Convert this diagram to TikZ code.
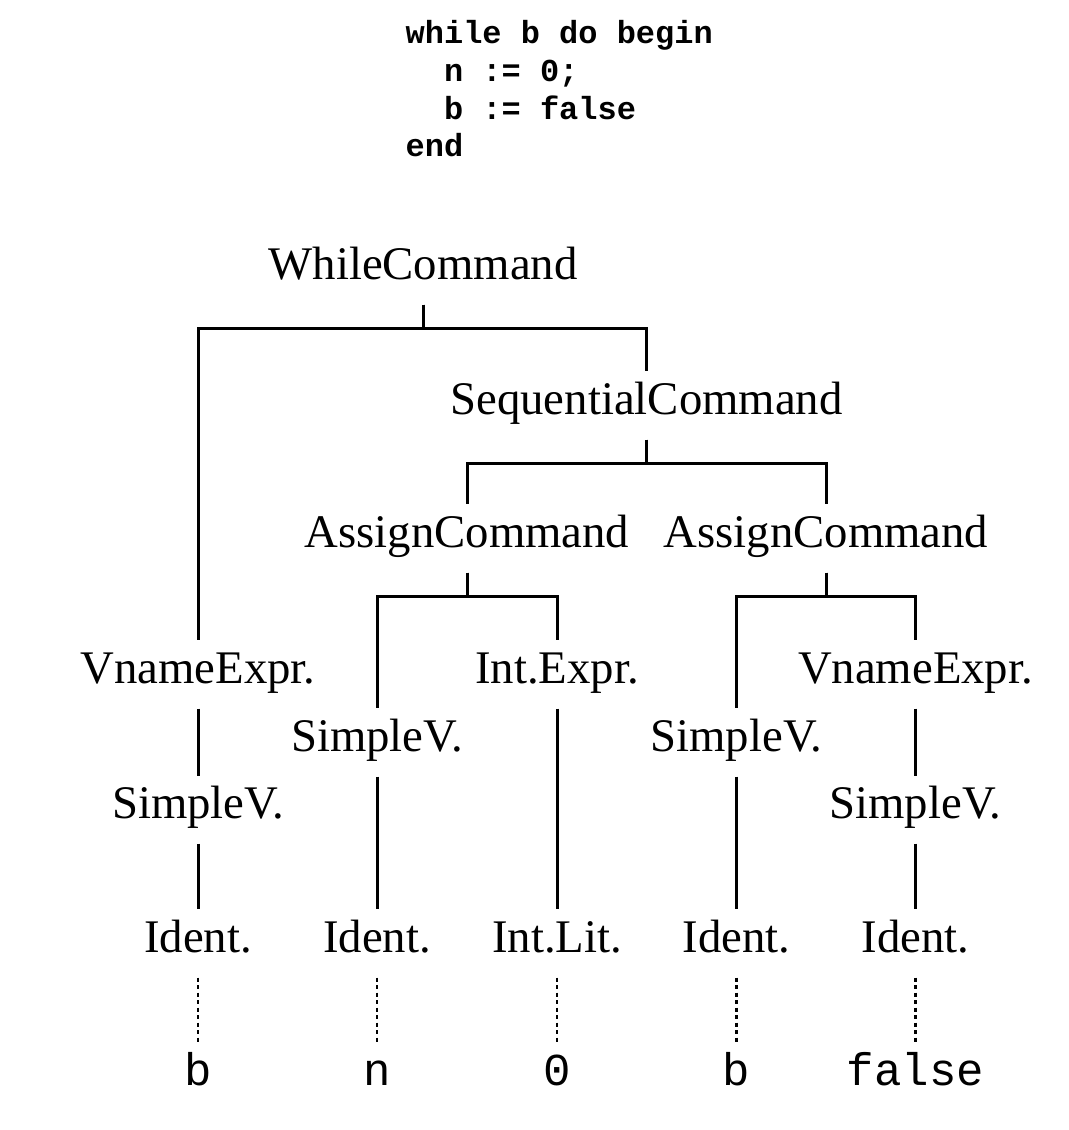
\documentclass[tikz,border=0pt]{standalone}
\usepackage{fontspec}
\setmainfont{Liberation Serif}
\setmonofont{Liberation Mono}
\usepackage{tikz}
\usetikzlibrary{positioning}

\tikzset{
  phrase/.style={font=\fontsize{13.3}{16}\selectfont, text height=0.327cm, text depth=0.14cm, inner xsep=0pt, inner ysep=0.1cm},
  token/.style={phrase, font=\fontsize{13}{16}\selectfont\ttfamily},
  program/.style={font=\fontsize{9.1}{10.8}\selectfont\ttfamily\bfseries, align=left, inner sep=0pt},
  link/.style={line width=0.03cm},
  spell/.style={line width=0.025cm, dash pattern=on 0.04cm off 0.035cm},
}
\newcommand{\fork}[2]{\draw[link] (#1.south) -- ++(0,-0.235) -| (#2.north);}

\begin{document}
\begin{tikzpicture}
    \useasboundingbox (0,0) rectangle (10.68,-11.30);

    \node[program, anchor=base west] (prog) at (4.05,-1.57) {while b do begin\\
      \phantom{wh}n := 0;\\
      \phantom{wh}b := false\\
      end};

    \node[phrase] (while) at (4.23,-2.705) {WhileCommand};
    \node[phrase] (seq) at (6.465,-4.055) {SequentialCommand};
    \node[phrase] (asgn1) at (4.67,-5.385) {AssignCommand};
    \node[phrase] (asgn2) at (8.26,-5.385) {AssignCommand};

    \node[phrase] (vname1) at (1.98,-6.745) {VnameExpr.};
    \node[phrase] (intexpr) at (5.57,-6.745) {Int.Expr.};
    \node[phrase] (vname2) at (9.155,-6.745) {VnameExpr.};
    \node[phrase] (svar2) at (3.77,-7.425) {SimpleV.};
    \node[phrase] (svar3) at (7.365,-7.425) {SimpleV.};
    \node[phrase, below=0.67cm of vname1] (svar1) {SimpleV.};
    \node[phrase, below=0.67cm of vname2] (svar4) {SimpleV.};

    \node[phrase] (id1) at (1.98,-9.435) {Ident.};
    \node[phrase] (id2) at (3.77,-9.435) {Ident.};
    \node[phrase] (intlit) at (5.57,-9.435) {Int.Lit.};
    \node[phrase] (id3) at (7.365,-9.435) {Ident.};
    \node[phrase] (id4) at (9.155,-9.435) {Ident.};

    \node[token, below=0.65cm of id1] (tb1) {b};
    \node[token, below=0.65cm of id2] (tn) {n};
    \node[token, below=0.65cm of intlit] (tzero) {0};
    \node[token, below=0.65cm of id3] (tb2) {b};
    \node[token, below=0.65cm of id4] (tfalse) {false};

    % tree branches
    \fork{while}{vname1}
    \fork{while}{seq}
    \fork{seq}{asgn1}
    \fork{seq}{asgn2}
    \fork{asgn1}{svar2}
    \fork{asgn1}{intexpr}
    \fork{asgn2}{svar3}
    \fork{asgn2}{vname2}

    \draw[link] (vname1) -- (svar1);
    \draw[link] (svar1) -- (id1);
    \draw[link] (svar2) -- (id2);
    \draw[link] (intexpr) -- (intlit);
    \draw[link] (svar3) -- (id3);
    \draw[link] (vname2) -- (svar4);
    \draw[link] (svar4) -- (id4);

    % spellings
    \draw[spell] (id1) -- (tb1);
    \draw[spell] (id2) -- (tn);
    \draw[spell] (intlit) -- (tzero);
    \draw[spell] (id3) -- (tb2);
    \draw[spell] (id4) -- (tfalse);
\end{tikzpicture}
\end{document}
